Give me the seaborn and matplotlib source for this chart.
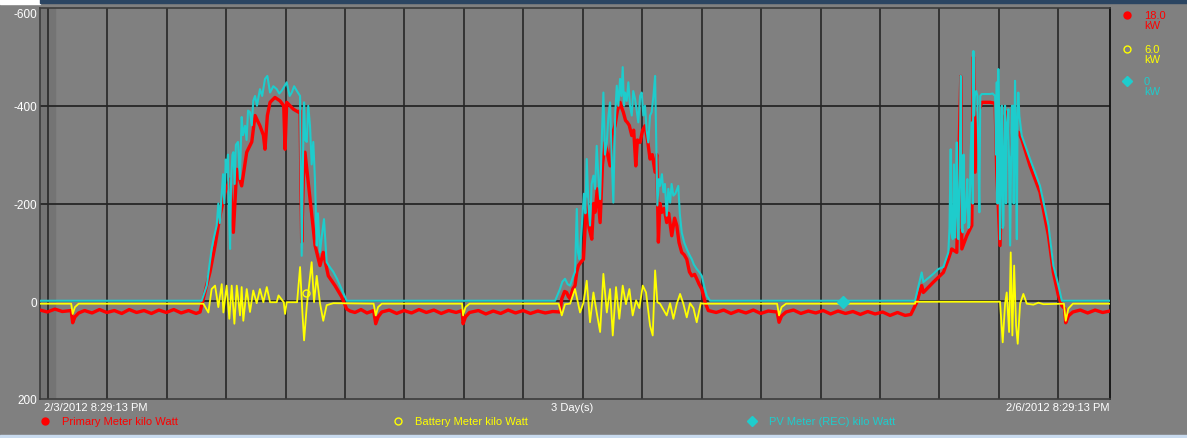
import matplotlib
matplotlib.use("Agg")
import matplotlib.pyplot as plt
import seaborn as sns
from matplotlib.patches import Rectangle

# hours after 2/3/2012 8:29:13 PM, kW (negative = generation, axis inverted)
red_t = [0.0, 0.5, 1.0, 1.5, 2.1, 2.2, 2.35, 2.6, 3.0, 3.5, 4.0, 4.5, 5.0, 5.5, 6.0, 6.5, 7.0, 7.5,
         8.0, 8.5, 9.0, 9.5, 10.0, 10.5, 10.77,
         11.10, 11.44, 11.78, 12.11, 12.45, 12.79, 13.01, 13.24, 13.57, 13.91, 14.25, 14.47, 14.80,
         15.03, 15.14, 15.30, 15.48, 15.81, 16.15, 16.40, 16.49, 16.60, 17.05, 17.38, 17.50, 17.61,
         17.72, 17.83, 18.17, 18.51, 18.84, 19.06, 19.40, 19.85, 20.30, 20.64, 20.86,
         21.2, 21.6, 22.0, 22.45, 22.59, 22.75, 23.0, 23.5, 24.0, 24.5, 25.0, 25.5, 26.0, 26.5, 27.0,
         27.5, 28.0, 28.4, 28.47, 28.63, 28.9, 29.5, 30.0, 30.5, 31.0, 31.5, 32.0, 32.5, 33.0, 33.5,
         34.0, 34.5, 34.99,
         35.11, 35.30, 35.44, 35.55, 35.67, 35.85, 36.00, 36.12, 36.23, 36.40, 36.57, 36.68, 36.79,
         36.95, 37.13, 37.25, 37.35, 37.50, 37.69, 37.85, 38.02, 38.20, 38.36, 38.50, 38.69, 38.85,
         39.03, 39.15, 39.25, 39.40, 39.52, 39.65, 39.82, 39.95, 40.09, 40.20, 40.38, 40.55, 40.71,
         40.88, 41.05, 41.20, 41.39, 41.50, 41.61, 41.72, 41.84, 42.00, 42.17, 42.30, 42.51, 42.70,
         42.85, 43.00, 43.18, 43.35, 43.52, 43.70, 43.86, 44.05, 44.19, 44.35, 44.53, 44.75, 44.97,
         45.5, 46.0, 46.5, 47.0, 47.5, 48.0, 48.5, 49.0, 49.6, 49.73, 49.9, 50.2, 50.7, 51.2, 51.7,
         52.2, 52.7, 53.2, 53.7, 54.2, 54.7, 55.2, 55.7, 56.2, 56.7, 57.2, 57.7, 58.21, 58.6,
         59.00, 59.33, 59.44, 60.11, 60.79, 61.12, 61.35, 61.69, 61.96, 62.03, 62.36, 62.70, 62.81,
         62.92, 63.14, 63.37, 63.93, 64.27, 64.38, 64.60, 64.83, 65.05, 65.28, 65.61, 65.83, 66.06,
         66.62, 67.29, 67.86, 68.19, 68.53, 68.76, 68.95, 69.02, 69.2, 69.5, 70.0, 70.5, 71.0, 71.5, 72.0]
red_kw = [18, 22, 16, 21, 19, 44, 32, 24, 19, 24, 17, 23, 19, 25, 17, 23, 19, 25,
          18, 23, 17, 24, 19, 25, 22,
          -19, -60, -114, -175, -223, -250, -141, -270, -236, -305, -326, -380, -359,
          -340, -311, -380, -407, -417, -410, -400, -311, -407, -393, -387, -390, -121,
          -250, -305, -209, -114, -73, -100, -52, -32, -9, 16, 20,
          23, 17, 24, 19, 46, 32, 22, 18, 25, 19, 24, 17, 23, 18, 25,
          19, 23, 19, 46, 32, 23, 19, 26, 20, 25, 18, 24, 19, 25, 20,
          24, 21, 22,
          -5, -20, -18, -10, -5, -25, -32, -60, -73, -80, -86, -150, -209,
          -150, -127, -200, -182, -230, -161, -280, -325, -300, -277, -340, -359, -390,
          -407, -395, -387, -370, -366, -360, -339, -350, -277, -330, -325, -350, -359,
          -330, -291, -300, -264, -300, -121, -200, -182, -190, -161, -180, -134, -170,
          -155, -120, -100, -95, -86, -60, -52, -55, -46, -35, -25, 2, 19,
          23, 18, 25, 19, 24, 18, 25, 20, 22, 43, 30, 22, 18, 25, 20,
          24, 19, 26, 20, 25, 21, 27, 21, 26, 22, 29, 23, 29, 27,
          2, -32, -18, -39, -59, -86, -107, -100, -460, -107, -134, -155, -500,
          -264, -387, -407, -407, -405, -264, -114, -373, -387, -300, -332, -346, -332,
          -277, -223, -134, -59, -11, 9, 15, 44, 30, 22, 18, 24, 18, 23, 20]

pv_t = [0.0, 10.88,
        11.22, 11.55, 11.70, 11.89, 12.00, 12.10, 12.23, 12.32, 12.40, 12.50, 12.56, 12.65, 12.72,
        12.79, 12.86, 12.95, 13.01, 13.10, 13.18, 13.32, 13.40, 13.45, 13.57, 13.66, 13.80, 13.90,
        14.00, 14.13, 14.25, 14.35, 14.47, 14.60, 14.80, 14.95, 15.14, 15.30, 15.48, 15.70, 15.93,
        16.10, 16.27, 16.45, 16.60, 16.80, 16.94, 17.10, 17.27, 17.50, 17.61, 17.70, 17.77, 17.85,
        17.95, 18.05, 18.17, 18.28, 18.39, 18.50, 18.62, 18.70, 18.84, 18.95, 19.11, 19.29, 19.50,
        19.74, 20.0, 20.19, 20.64,
        34.66, 34.99, 35.15, 35.33, 35.50, 35.67, 35.89, 36.00, 36.12, 36.20, 36.30, 36.46, 36.60,
        36.70, 36.79, 36.90, 37.01, 37.12, 37.24, 37.35, 37.46, 37.58, 37.69, 37.80, 37.91, 38.02,
        38.14, 38.25, 38.36, 38.46, 38.58, 38.70, 38.81, 38.92, 39.03, 39.12, 39.21, 39.30, 39.37,
        39.48, 39.59, 39.70, 39.82, 39.92, 40.04, 40.15, 40.26, 40.38, 40.49, 40.60, 40.71, 40.82,
        40.93, 41.05, 41.16, 41.28, 41.39, 41.54, 41.65, 41.72, 41.85, 41.95, 42.05, 42.17, 42.28,
        42.40, 42.50, 42.62, 42.75, 42.95, 43.05, 43.18, 43.35, 43.52, 43.70, 43.86, 44.0, 44.19,
        44.35, 44.53, 44.70, 44.87, 45.09,
        54.02, 58.88,
        59.33, 59.44, 60.11, 60.45, 60.79, 61.12, 61.20, 61.28, 61.33, 61.42, 61.50, 61.56, 61.62,
        61.69, 61.75, 61.80, 61.88, 61.96, 62.02, 62.09, 62.15, 62.20, 62.25, 62.32, 62.40, 62.47,
        62.54, 62.62, 62.70, 62.76, 62.81, 62.86, 62.92, 63.00, 63.08, 63.14, 63.21, 63.27, 63.37,
        63.93, 64.10, 64.27, 64.33, 64.38, 64.43, 64.49, 64.55, 64.60, 64.66, 64.72, 64.78, 64.83,
        64.90, 64.94, 65.00, 65.05, 65.16, 65.22, 65.28, 65.35, 65.40, 65.46, 65.52, 65.61, 65.67,
        65.73, 65.78, 65.83, 65.90, 66.06, 66.62, 67.29, 67.86, 68.19, 68.53, 68.76, 72.0]
pv_kw = [-1, -1,
         -32, -107, -130, -155, -200, -160, -223, -260, -200, -290, -264, -300, -180,
         -107, -250, -300, -305, -240, -320, -326, -280, -250, -377, -340, -359, -330,
         -390, -387, -360, -410, -420, -400, -434, -420, -455, -461, -427, -440, -434,
         -425, -431, -440, -448, -420, -427, -440, -431, -420, -93, -300, -407, -330,
         -326, -400, -359, -280, -326, -250, -114, -180, -100, -130, -168, -80, -70,
         -60, -45, -32, -1,
         -1, -25, -40, -46, -35, -32, -52, -60, -189, -100, -86, -155, -220,
         -180, -291, -200, -155, -240, -257, -230, -318, -250, -209, -330, -427, -300,
         -325, -380, -407, -300, -202, -380, -441, -400, -455, -420, -479, -400, -427,
         -410, -448, -400, -380, -430, -414, -390, -366, -420, -427, -380, -400, -350,
         -325, -380, -387, -420, -461, -196, -250, -236, -260, -223, -240, -175, -230,
         -202, -240, -216, -220, -236, -180, -141, -120, -107, -95, -86, -75, -66,
         -60, -52, -30, -11, -1,
         -1, -1,
         -59, -39, -56, -66, -70, -100, -150, -311, -140, -127, -280, -130, -200,
         -325, -130, -127, -260, -461, -150, -141, -300, -160, -175, -200, -250, -150,
         -155, -300, -366, -200, -512, -380, -427, -430, -420, -300, -182, -420, -424,
         -424, -425, -420, -300, -448, -200, -475, -300, -127, -350, -400, -150, -155,
         -380, -400, -200, -350, -393, -250, -114, -300, -400, -400, -200, -451, -300,
         -127, -380, -427, -380, -339, -291, -236, -155, -73, -32, -1, -1]

bat_t = [0.0, 2.1, 2.2, 2.35, 2.6, 10.99,
         11.33, 11.55, 11.78, 12.00, 12.23, 12.34, 12.56, 12.74, 12.90, 13.08, 13.24, 13.46, 13.57,
         13.68, 13.91, 14.13, 14.35, 14.58, 14.80, 15.03, 15.26, 15.48, 15.93, 16.05, 16.40, 16.49,
         16.60, 17.30, 17.50, 17.65, 17.77, 17.95, 18.28, 18.44, 18.62, 18.84, 19.06, 19.29, 19.74,
         22.45, 22.59, 22.75, 23.0, 28.4, 28.47, 28.63, 28.9, 34.9,
         35.11, 35.33, 35.67, 36.00, 36.34, 36.57, 36.79, 37.01, 37.24, 37.46, 37.69, 37.91, 38.14,
         38.36, 38.54, 38.76, 38.98, 39.21, 39.43, 39.66, 39.88, 40.11, 40.33, 40.56, 40.78, 41.05,
         41.23, 41.39, 41.54, 41.72, 42.17, 42.40, 42.62, 42.85, 43.07, 43.29, 43.52, 43.74, 43.97,
         44.19, 44.46, 44.64, 45.0,
         49.6, 49.73, 49.9, 50.2, 58.88, 58.9, 64.60,
         64.78, 64.94, 65.05, 65.21, 65.32, 65.43, 65.55, 65.68, 65.79, 65.95, 66.17, 66.40, 66.84,
         67.18, 67.52, 68.9, 69.02, 69.2, 69.5, 72.0]
bat_kw = [5, 5, 26, 12, 5, 5,
          23, -25, -32, 12, -35, 23, -32, 36, -32, 46, -32, 29, -29,
          40, -25, 22, -22, 4, -25, 2, -29, 2, 2, -12, 2, 26,
          2, 2, -70, 20, 80, 10, -80, 2, -52, 4, 40, 8, 4,
          5, 29, 12, 5, 5, 29, 12, 5, 5,
          29, 6, 5, -25, 23, 3, -42, 43, -18, 23, 63, -56, 23,
          -25, 70, -29, 36, -32, 6, -25, 29, -2, 14, -32, -18, 50,
          70, -63, 2, 5, 29, 4, 36, 5, -15, 5, 33, 4, 14,
          43, 4, 5, 5,
          5, 29, 12, 5, 5, 1, 1,
          84, 5, -18, 63, -100, 70, -73, 50, 87, 5, -15, 5, 7,
          3, 6, 5, 40, 15, 5, 5]

legend_names = ["Primary Meter kilo Watt", "Battery Meter kilo Watt", "PV Meter (REC) kilo Watt"]
legend_values = ["18.0\nkW", "6.0\nkW", "0\nkW"]
line_colors = ["#ff0000", "#ffff00", "#1ecccc"]
yticks = [-600, -400, -200, 0, 200]
grid_hours = [0.52 + 4 * k for k in range(18)]

sns.set_theme(style="dark", rc={"axes.facecolor": "#808080", "figure.facecolor": "#808080"})
plt.rcParams["font.family"] = ["Liberation Sans", "DejaVu Sans"]

fig = plt.figure(figsize=(11.87, 4.39), dpi=100)
ax = fig.add_axes([40 / 1187, 39 / 439, 1070 / 1187, 391 / 439])

ax.axvspan(0, 1.0, color="#747474", zorder=0)
for h in grid_hours:
    ax.axvline(h, color="#2e2e2e", lw=1.3, zorder=1)
for v in [-400, -200, 0]:
    ax.axhline(v, color="#262626", lw=1.3, zorder=1)

sns.lineplot(x=red_t, y=red_kw, color=line_colors[0], linewidth=2.4, ax=ax,
             estimator=None, sort=False, zorder=3)
sns.lineplot(x=pv_t, y=pv_kw, color=line_colors[2], linewidth=1.5, ax=ax,
             estimator=None, sort=False, zorder=4)
sns.lineplot(x=bat_t, y=bat_kw, color=line_colors[1], linewidth=1.3, ax=ax,
             estimator=None, sort=False, zorder=5)
ax.plot([17.9], [-17], marker="o", mfc="none", mec="#ffff00", ms=5, zorder=6)
ax.plot([54.02], [2], marker="D", color=line_colors[2], ms=6, zorder=6)

ax.set_xlim(0, 72)
ax.set_ylim(200, -600)
ax.set_yticks(yticks)
ax.set_yticklabels([str(v) for v in yticks], color="white", fontsize=8.5)
ax.get_yticklabels()[0].set_verticalalignment("top")
ax.set_xticks([])
ax.tick_params(axis="y", length=0, pad=2)
ax.set_xlabel("")
ax.set_ylabel("")
for s in ["left", "top", "bottom"]:
    ax.spines[s].set_color("#3c3c3c")
    ax.spines[s].set_linewidth(1.2)
ax.spines["right"].set_color("#111111")
ax.spines["right"].set_linewidth(1.3)

W, H = 1187, 439
def fx(px):
    return px / W
def fy(py):
    return 1 - py / H

# frame decorations
fig.patches.append(Rectangle((fx(0), fy(5)), fx(40), 5 / H, color="white", transform=fig.transFigure))
fig.patches.append(Rectangle((fx(40), fy(4)), 1 - fx(40), 4 / H, color="#2b4562", transform=fig.transFigure))
fig.patches.append(Rectangle((0, 0), 1, 3 / H, color="#c9dbef", transform=fig.transFigure))

# bottom time labels
fig.text(fx(44), fy(408), "2/3/2012 8:29:13 PM", color="white", fontsize=8, va="center", ha="left")
fig.text(fx(572), fy(408), "3 Day(s)", color="white", fontsize=8, va="center", ha="center")
fig.text(fx(1110), fy(408), "2/6/2012 8:29:13 PM", color="white", fontsize=8, va="center", ha="right")

# bottom legend
leg_x = [45, 398, 752]
leg_m = ["o", "o", "D"]
for i in range(3):
    filled = i != 1
    fig.lines.append(plt.Line2D([fx(leg_x[i])], [fy(422)], marker=leg_m[i], ms=5,
                                mfc=line_colors[i] if filled else "none", mec=line_colors[i],
                                transform=fig.transFigure))
    fig.text(fx(leg_x[i] + 17), fy(422), legend_names[i], color=line_colors[i], fontsize=8,
             va="center", ha="left")

# right legend
right_y = [16, 50, 82]
for i in range(3):
    filled = i != 1
    fig.lines.append(plt.Line2D([fx(1127)], [fy(right_y[i])], marker=leg_m[i], ms=5,
                                mfc=line_colors[i] if filled else "none", mec=line_colors[i],
                                transform=fig.transFigure))
    fig.text(fx(1144), fy(right_y[i] - 5), legend_values[i], color=line_colors[i], fontsize=8,
             va="top", ha="left", linespacing=0.95)

fig.savefig("out.png", dpi=100, facecolor=fig.get_facecolor())
